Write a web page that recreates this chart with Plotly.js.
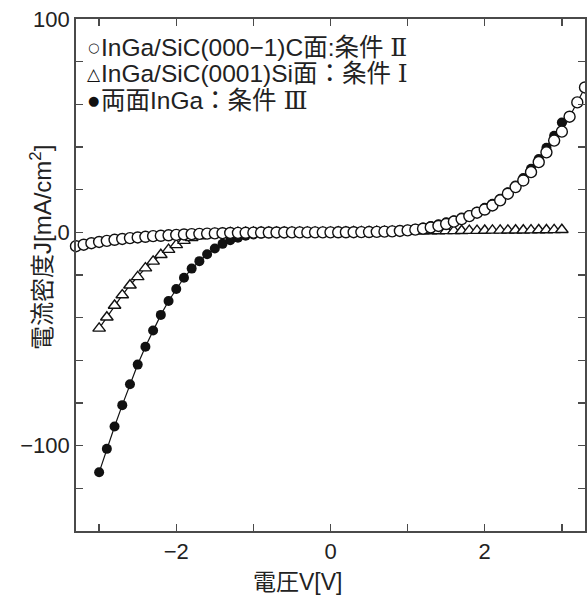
<!DOCTYPE html>
<html>
<head>
<meta charset="utf-8">
<script src="https://cdn.plot.ly/plotly-3.0.1.min.js"></script>
<style>
html,body{margin:0;padding:0;background:#fff;}
#chart{width:587px;height:597px;}
</style>
</head>
<body>
<div id="chart"></div>
<script>
// Voltage (V) samples
const V_open = [-3.3,-3.2,-3.1,-3.0,-2.9,-2.8,-2.7,-2.6,-2.5,-2.4,-2.3,-2.2,-2.1,-2.0,-1.9,-1.8,-1.7,-1.6,-1.5,-1.4,-1.3,-1.2,-1.1,-1.0,-0.9,-0.8,-0.7,-0.6,-0.5,-0.4,-0.3,-0.2,-0.1,0.0,0.1,0.2,0.3,0.4,0.5,0.6,0.7,0.8,0.9,1.0,1.1,1.2,1.3,1.4,1.5,1.6,1.7,1.8,1.9,2.0,2.1,2.2,2.3,2.4,2.5,2.6,2.7,2.8,2.9,3.0,3.1,3.2,3.3];
const V_main = [-3.0,-2.9,-2.8,-2.7,-2.6,-2.5,-2.4,-2.3,-2.2,-2.1,-2.0,-1.9,-1.8,-1.7,-1.6,-1.5,-1.4,-1.3,-1.2,-1.1,-1.0,-0.9,-0.8,-0.7,-0.6,-0.5,-0.4,-0.3,-0.2,-0.1,0.0,0.1,0.2,0.3,0.4,0.5,0.6,0.7,0.8,0.9,1.0,1.1,1.2,1.3,1.4,1.5,1.6,1.7,1.8,1.9,2.0,2.1,2.2,2.3,2.4,2.5,2.6,2.7,2.8,2.9,3.0];

// Current density J (mA/cm2)
const J_Cface = [-6.5,-5.8,-5.1,-4.5,-4.0,-3.5,-3.1,-2.7,-2.4,-2.1,-1.8,-1.6,-1.4,-1.2,-1.0,-0.85,-0.7,-0.6,-0.5,-0.4,-0.3,-0.25,-0.2,-0.15,-0.1,-0.08,-0.06,-0.05,-0.04,-0.03,-0.02,-0.01,0,0,0.02,0.04,0.07,0.1,0.15,0.22,0.32,0.45,0.65,0.9,1.25,1.7,2.3,3.0,3.9,5.0,6.2,7.6,9.2,10.7,12.6,15.0,18.1,21.2,24.3,28.2,32.9,37.5,43.0,47.2,54.2,60.9,67.9];
const J_Siface = [-45,-39.8,-34.3,-29.4,-24.8,-20.9,-16.8,-13.6,-10.5,-8.1,-5.9,-3.9,-2.6,-1.7,-1.1,-0.7,-0.45,-0.3,-0.2,-0.12,-0.08,-0.05,-0.03,-0.02,-0.01,0,0,0,0,0,0,0.05,0.1,0.15,0.2,0.25,0.3,0.35,0.4,0.45,0.5,0.55,0.6,0.6,0.65,0.7,0.7,0.75,0.8,0.8,0.85,0.9,0.9,0.95,1.0,1.0,1.05,1.1,1.1,1.15,1.2];
const J_both = [-112.5,-101.5,-91,-81,-71.2,-62,-53.6,-46,-38.7,-32.2,-26.6,-21.3,-17,-13.5,-10.3,-7.6,-5.4,-3.7,-2.5,-1.6,-1.0,-0.6,-0.4,-0.25,-0.15,-0.1,-0.06,-0.03,-0.02,-0.01,0,0.03,0.06,0.1,0.15,0.22,0.32,0.45,0.65,0.9,1.25,1.7,2.3,3.0,3.8,4.7,5.7,6.9,8.1,9.6,11.5,13.4,15.7,18.8,22.0,25.5,29.8,34.4,39.6,45.3,51.5];

// Labels
const NUM = '<span style="font-family:DejaVu Serif;font-size:25px">';
const seriesNames = [
  "InGa/SiC(000\u22121)C面:条件 " + NUM + "Ⅱ</span>",
  "InGa/SiC(0001)Si面：条件 " + NUM + "Ⅰ</span>",
  "両面InGa：条件 " + NUM + "Ⅲ</span>"
];
const seriesGlyphs = ["○", "△", "●"];
const xTickVals = [-2, 0, 2];
const xTickText = ["\u22122", "0", "2"];
const yTickVals = [-100, 0, 100];
const yTickText = ["\u2212100", "0", "100"];
const xTitle = "電圧V[V]";
const yTitle = "電流密度J[mA/cm<sup>2</sup>]";

const FONT = "Liberation Sans, Arial, Noto Sans CJK JP, sans-serif";
const AX = "#4a4a4a";

const traces = [
  {x: V_main, y: J_both, name: "両面InGa：条件Ⅲ", mode: "lines+markers", cliponaxis: false,
   line: {color: "#111", width: 1.2},
   marker: {symbol: "circle", size: 10, color: "#111", line: {color: "#111", width: 0}}},
  {x: V_main, y: J_Siface, name: "InGa/SiC(0001)Si面：条件Ⅰ", mode: "lines+markers", cliponaxis: false,
   line: {color: "#111", width: 1.2},
   marker: {symbol: "triangle-up", size: 11, color: "#fff", line: {color: "#111", width: 1.4}}},
  {x: V_open, y: J_Cface, name: "InGa/SiC(000−1)C面:条件Ⅱ", mode: "lines+markers", cliponaxis: false,
   line: {color: "#111", width: 1.2},
   marker: {symbol: "circle", size: 11, color: "#fff", line: {color: "#111", width: 1.4}}}
];

const L = 76, R = 585, T = 19, B = 531;
const px = x => (x - L) / (R - L);
const py = y => (B - y) / (B - T);

const legendY = [47, 73.5, 100];
const glyphSize = [13, 17, 13];
const annotations = [];
for (let i = 0; i < 3; i++) {
  annotations.push({xref: "paper", yref: "paper", x: px(93.5), y: py(legendY[i]), xanchor: "center", yanchor: "middle",
    text: seriesGlyphs[i], showarrow: false, font: {family: "DejaVu Sans, sans-serif", size: glyphSize[i], color: "#111"}});
  annotations.push({xref: "paper", yref: "paper", x: px(99), y: py(legendY[i]), xanchor: "left", yanchor: "middle",
    text: seriesNames[i], showarrow: false, font: {family: FONT, size: 24.5, color: "#222"}});
}
annotations.push({xref: "paper", yref: "paper", x: px(297), y: py(582), xanchor: "center", yanchor: "middle",
  text: xTitle, showarrow: false, font: {family: FONT, size: 23, color: "#222"}});
annotations.push({xref: "paper", yref: "paper", x: px(41), y: py(248), xanchor: "center", yanchor: "middle",
  text: yTitle, textangle: -90, showarrow: false, font: {family: FONT, size: 24, color: "#222"}});

const axisCommon = {
  showgrid: false, zeroline: false, showline: true, linecolor: AX, linewidth: 1.8,
  mirror: "ticks", ticks: "inside", ticklen: 7, tickwidth: 1.5, tickcolor: AX,
  tickfont: {family: FONT, size: 22, color: "#222"}, tickmode: "array"
};

const layout = {
  width: 587, height: 597,
  margin: {l: L, r: 587 - R, t: T, b: 597 - B, pad: 0},
  paper_bgcolor: "#fff", plot_bgcolor: "#fff",
  showlegend: false,
  font: {family: FONT, color: "#222"},
  xaxis: Object.assign({}, axisCommon, {range: [-3.3, 3.3], tickvals: xTickVals, ticktext: xTickText,
    minor: {tickmode: "linear", tick0: 0, dtick: 1, ticks: "inside", ticklen: 7, tickwidth: 1.5, tickcolor: AX, showgrid: false}}),
  yaxis: Object.assign({}, axisCommon, {range: [-140, 100], tickvals: yTickVals, ticktext: yTickText,
    minor: {tickmode: "linear", tick0: 0, dtick: 20, ticks: "inside", ticklen: 7, tickwidth: 1.5, tickcolor: AX, showgrid: false}}),
  annotations: annotations
};

Plotly.newPlot("chart", traces, layout, {displayModeBar: false, staticPlot: true});
</script>
</body>
</html>
